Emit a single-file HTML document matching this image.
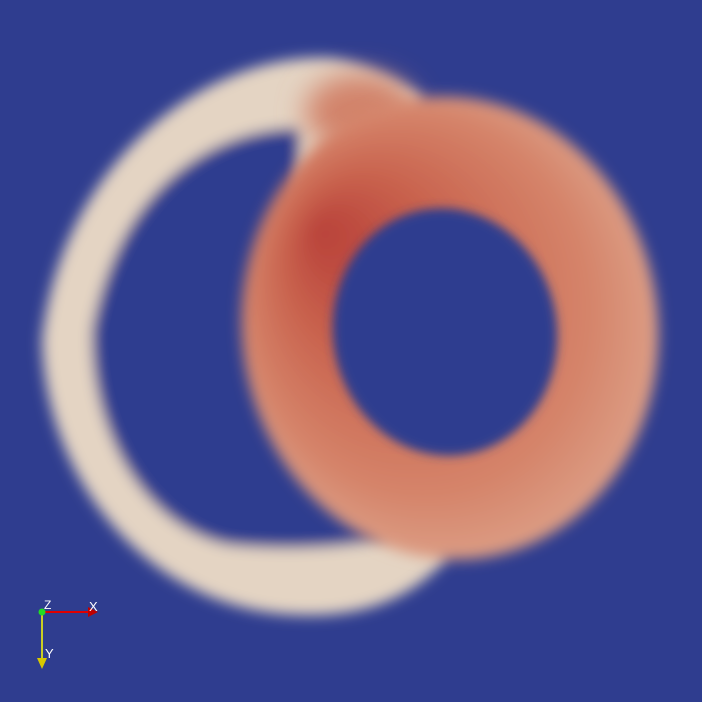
<!DOCTYPE html>
<html><head><meta charset="utf-8"><style>
html,body{margin:0;padding:0;background:#2f3d8f;}
svg{display:block}
text{font-family:"Liberation Sans",sans-serif;}
</style></head><body>
<svg width="702" height="702" viewBox="0 0 702 702">
<defs>
<filter id="blur" x="-20%" y="-20%" width="140%" height="140%"><feGaussianBlur stdDeviation="7"/></filter>
<filter id="blur2" x="-20%" y="-20%" width="140%" height="140%"><feGaussianBlur stdDeviation="5"/></filter>
<filter id="blur3" x="-50%" y="-50%" width="200%" height="200%"><feGaussianBlur stdDeviation="14"/></filter>
<radialGradient id="lvg" cx="0.5" cy="0.5" r="0.55" fx="0.22" fy="0.25">
<stop offset="0" stop-color="#b9423a"/>
<stop offset="0.35" stop-color="#c9634e"/>
<stop offset="0.75" stop-color="#d5846a"/>
<stop offset="1" stop-color="#dea58d"/>
</radialGradient>
</defs>
<rect width="702" height="702" fill="#2f3d8f"/>
<g filter="url(#blur)">
<path d="M330,58 C200,52 60,170 42,340 C45,480 150,612 300,615 C360,617 410,600 445,560 L420,330 L420,95 C390,75 360,62 330,58 Z" fill="#e4d4c3"/>
<path d="M300,128 C220,128 120,180 92,330 C90,440 150,530 230,545 C300,552 360,545 390,538 L300,330 Z" fill="#2f3d8f"/>
</g>
<ellipse cx="360" cy="112" rx="55" ry="38" fill="#d2836a" filter="url(#blur3)"/>
<g filter="url(#blur)">
<ellipse cx="450" cy="328" rx="208" ry="232" fill="url(#lvg)" transform="rotate(-8 450 328)"/>
</g>
<g filter="url(#blur2)">
<ellipse cx="445" cy="332" rx="112" ry="124" fill="#2f3d8f" transform="rotate(-10 445 332)"/>
</g>
<g>
<line x1="42" y1="612" x2="90" y2="612" stroke="#e00000" stroke-width="2"/>
<polygon points="88,607 98,612 88,617" fill="#c00000"/>
<line x1="42" y1="612" x2="42" y2="660" stroke="#ffff00" stroke-width="1.5"/>
<polygon points="37,658 47,658 42,669" fill="#d8c800"/>
<circle cx="42" cy="612" r="3.5" fill="#22dd22"/>
<text x="89" y="611" fill="#fff" font-size="13">X</text>
<text x="45" y="658" fill="#fff" font-size="13">Y</text>
<text x="44" y="609" fill="#fff" font-size="12">Z</text>
</g>
</svg>
</body></html>
